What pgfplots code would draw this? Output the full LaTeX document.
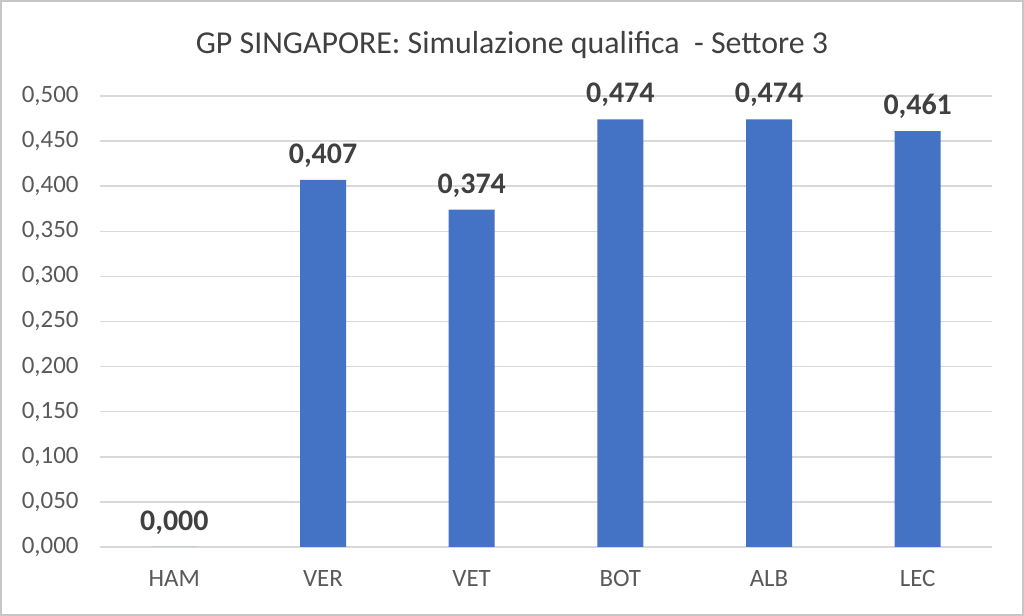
\documentclass[border=0pt]{standalone}
\usepackage{pgfplots}
\pgfplotsset{compat=1.18}
\usepackage{fontspec}
\setmainfont{Carlito}
\definecolor{barblue}{HTML}{4472C4}
\definecolor{gridgray}{HTML}{D9D9D9}
\definecolor{ticktext}{HTML}{595959}
\definecolor{labeltext}{HTML}{404040}
\begin{document}
\begin{tikzpicture}[x=1bp,y=1bp]
\draw[draw=gray!45, line width=2bp] (1,1) rectangle (1023,615);
\node[font=\fontsize{32}{38}\selectfont, text=labeltext] at (512,571) {GP SINGAPORE: Simulazione qualifica \ - Settore 3};
\begin{axis}[
  at={(100bp,69bp)}, anchor=south west,
  scale only axis, width=892bp, height=451bp,
  xmin=-0.5, xmax=5.5, ymin=0, ymax=0.5,
  ytick={0,0.05,...,0.5},
  xtick={0,1,2,3,4,5},
  xticklabels={HAM,VER,VET,BOT,ALB,LEC},
  ymajorgrids, major grid style={gridgray, line width=1.5bp},
  axis line style={draw=none},
  major tick length=0pt,
  /pgf/number format/assume math mode=true,
  yticklabel={\pgfmathprintnumber[fixed,fixed zerofill,precision=3,use comma]{\tick}},
  yticklabel style={font=\fontsize{25}{28}\selectfont, text=ticktext, anchor=east, xshift=-18bp},
  xticklabel style={font=\fontsize{25}{28}\selectfont, text=ticktext, anchor=center, yshift=-32bp},
  ybar, bar width=46bp,
  nodes near coords={\pgfmathprintnumber[fixed,fixed zerofill,precision=3,use comma]{\pgfplotspointmeta}},
  nodes near coords style={font=\bfseries\fontsize{30}{34}\selectfont, text=labeltext, anchor=south, yshift=9bp},
  clip=false,
]
\addplot[fill=barblue, draw=none] coordinates {(0,0) (1,0.407) (2,0.374) (3,0.474) (4,0.474) (5,0.461)};
\end{axis}
\end{tikzpicture}
\end{document}
